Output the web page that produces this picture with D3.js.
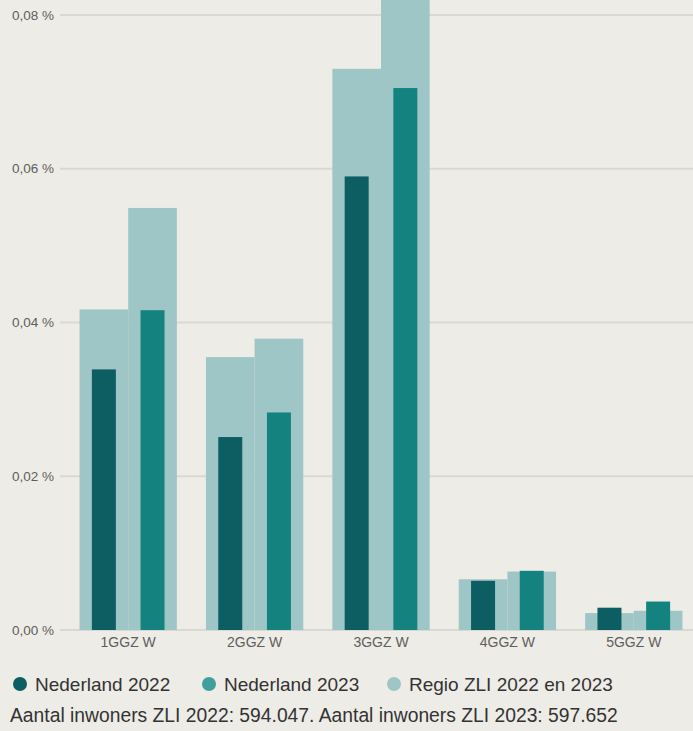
<!DOCTYPE html>
<html>
<head>
<meta charset="utf-8">
<script src="https://cdn.jsdelivr.net/npm/d3@7"></script>
<style>
  html, body { margin: 0; padding: 0; background: #eeece7; }
  svg { display: block; font-family: "Liberation Sans", Arial, sans-serif; }
</style>
</head>
<body>
<svg id="chart" width="693" height="731"></svg>
<script>
const categories = ["1GGZ W", "2GGZ W", "3GGZ W", "4GGZ W", "5GGZ W"];
const regio2022 = [0.0417, 0.0355, 0.0730, 0.0066, 0.0022];
const regio2023 = [0.0549, 0.0379, 0.0850, 0.0076, 0.0025];
const nl2022 = [0.0339, 0.0251, 0.0590, 0.0064, 0.0029];
const nl2023 = [0.0416, 0.0283, 0.0705, 0.0077, 0.0037];
const yTicks = [0, 0.02, 0.04, 0.06, 0.08];
const legendLabels = ["Nederland 2022", "Nederland 2023", "Regio ZLI 2022 en 2023"];
const footerText = "Aantal inwoners ZLI 2022: 594.047. Aantal inwoners ZLI 2023: 597.652";

const colDark = "#0c5e62", colTeal = "#14837f", colLight = "#9fc6c6";
const legendColors = ["#0c5e62", "#3f9f9c", "#9fc6c6"];

const svg = d3.select("#chart");
const W = 693, H = 731;

const y = d3.scaleLinear().domain([0, 0.08]).range([630, 15]);
const x0 = d3.scaleBand().domain(categories).range([65, 697]).paddingInner(0.23).paddingOuter(0.115);
const years = ["2022", "2023"];
const x1 = d3.scaleBand().domain(years).range([0, x0.bandwidth()]).padding(0);
const darkW = 24;

const fmt = d => d3.format(".2f")(d).replace(".", ",") + " %";

// gridlines
svg.append("g").selectAll("line").data(yTicks).join("line")
  .attr("x1", 60).attr("x2", W)
  .attr("y1", d => y(d)).attr("y2", d => y(d))
  .attr("stroke", "#d9d8d3").attr("stroke-width", 2);

// tick labels
svg.append("g").selectAll("text").data(yTicks).join("text")
  .attr("x", 54).attr("y", d => y(d)).attr("dy", "0.35em")
  .attr("text-anchor", "end")
  .attr("font-size", 13.5).attr("fill", "#605e5c")
  .text(fmt);

const rows = categories.map((c, i) => ({c, r: [regio2022[i], regio2023[i]], n: [nl2022[i], nl2023[i]]}));

const groups = svg.append("g").selectAll("g").data(rows).join("g")
  .attr("transform", d => `translate(${x0(d.c)},0)`);

groups.selectAll("rect.light").data(d => d.r.map((v, k) => ({k: years[k], v}))).join("rect")
  .attr("class", "light")
  .attr("x", d => x1(d.k)).attr("width", x1.bandwidth())
  .attr("y", d => y(d.v)).attr("height", d => y(0) - y(d.v))
  .attr("fill", colLight);

groups.selectAll("rect.nl").data(d => d.n.map((v, k) => ({k: years[k], v}))).join("rect")
  .attr("class", "nl")
  .attr("x", d => x1(d.k) + (x1.bandwidth() - darkW) / 2).attr("width", darkW)
  .attr("y", d => y(d.v)).attr("height", d => y(0) - y(d.v))
  .attr("fill", d => d.k === "2022" ? colDark : colTeal);

// category labels
svg.append("g").selectAll("text").data(categories).join("text")
  .attr("x", d => x0(d) + x0.bandwidth() / 2).attr("y", 647)
  .attr("text-anchor", "middle")
  .attr("font-size", 14).attr("fill", "#605e5c")
  .text(d => d);

// legend
const legendX = [20, 209, 394];
const lg = svg.append("g").selectAll("g").data(legendLabels).join("g")
  .attr("transform", (d, i) => `translate(${legendX[i]},684)`);
lg.append("circle").attr("r", 7).attr("fill", (d, i) => legendColors[i]);
lg.append("text").attr("x", 15).attr("dy", "0.35em")
  .attr("font-size", 19).attr("fill", "#333333").text(d => d);

// footer
svg.append("text").attr("x", 10).attr("y", 722)
  .attr("font-size", 19.3).attr("fill", "#333333").text(footerText);
</script>
</body>
</html>
